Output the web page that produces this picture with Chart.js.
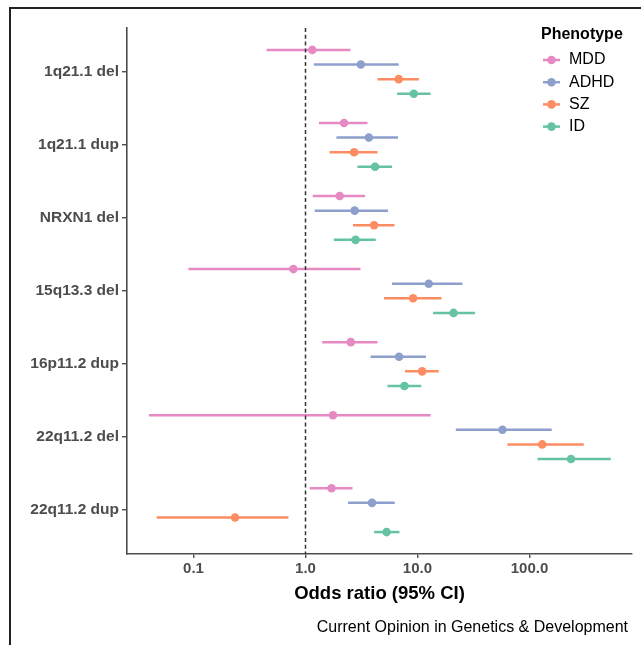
<!DOCTYPE html>
<html>
<head>
<meta charset="utf-8">
<script src="https://cdn.jsdelivr.net/npm/chart.js@4.4.0/dist/chart.umd.min.js"></script>
<style>
  html, body { margin: 0; padding: 0; background: #fff; overflow: hidden; }
  #wrap { position: relative; width: 641px; height: 645px; }
  #frame { position: absolute; left: 9px; top: 7px; width: 700px; height: 700px; border-left: 2px solid #222; border-top: 2px solid #222; pointer-events: none; }
  canvas { position: absolute; left: 0; top: 0; }
</style>
</head>
<body>
<div id="wrap">
  <div id="frame"></div>
  <canvas id="forest_chart" width="641" height="645"></canvas>
</div>
<script>
// CNVs, top to bottom
const cnvs = ["1q21.1 del", "1q21.1 dup", "NRXN1 del", "15q13.3 del", "16p11.2 dup", "22q11.2 del", "22q11.2 dup"];
const phenotypes = ["MDD", "ADHD", "SZ", "ID"];
const phenoColors = ["rgb(231, 138, 195)", "rgb(141, 160, 203)", "rgb(252, 141, 98)", "rgb(102, 194, 165)"];
const xTicks = [0.1, 1, 10, 100];

// odds ratios with 95% CI, one value per CNV
const mddOR = [1.15, 2.21, 2.02, 0.78, 2.54, 1.76, 1.71];
const mddLo = [0.45, 1.32, 1.16, 0.09, 1.41, 0.04, 1.09];
const mddHi = [2.52, 3.58, 3.41, 3.1, 4.4, 13.1, 2.63];

const adhdOR = [3.12, 3.68, 2.75, 12.6, 6.85, 57.4, 3.93];
const adhdLo = [1.19, 1.89, 1.21, 5.93, 3.81, 22, 2.4];
const adhdHi = [6.8, 6.71, 5.46, 25.2, 11.9, 158, 6.27];

const szOR = [6.8, 2.72, 4.1, 9.14, 11.0, 130, 0.235];
const szLo = [4.4, 1.64, 2.66, 5.03, 7.75, 63.6, 0.047];
const szHi = [10.3, 4.4, 6.23, 16.4, 15.5, 305, 0.705];

const idOR = [9.27, 4.18, 2.8, 21, 7.65, 235, 5.3];
const idLo = [6.58, 2.91, 1.79, 13.8, 5.4, 118, 4.1];
const idHi = [13.1, 5.93, 4.24, 32.7, 10.8, 532, 6.9];

const allOR = [mddOR, adhdOR, szOR, idOR];
const allLo = [mddLo, adhdLo, szLo, idLo];
const allHi = [mddHi, adhdHi, szHi, idHi];
const dodge = [-0.3, -0.1, 0.1, 0.3];

const FONT = "'Liberation Sans', Arial, sans-serif";

// horizontal CI lines
const errorBars = {
  id: "errorBars",
  beforeDatasetsDraw(chart) {
    const { ctx, scales: { x, y } } = chart;
    ctx.save();
    ctx.lineWidth = 2.5;
    chart.data.datasets.forEach((ds) => {
      ctx.strokeStyle = ds.borderColor;
      for (const d of ds.data) {
        const py = y.getPixelForValue(d.y);
        ctx.beginPath();
        ctx.moveTo(x.getPixelForValue(d.lo), py);
        ctx.lineTo(x.getPixelForValue(d.hi), py);
        ctx.stroke();
      }
    });
    ctx.restore();
  },
  // dashed reference line at OR = 1
  afterDatasetsDraw(chart) {
    const { ctx, chartArea, scales: { x } } = chart;
    const px = Math.round(x.getPixelForValue(1)) + 0.5;
    ctx.save();
    ctx.strokeStyle = "#333";
    ctx.lineWidth = 1.5;
    ctx.setLineDash([4, 2.8]);
    ctx.beginPath();
    ctx.moveTo(px, chartArea.top);
    ctx.lineTo(px, chartArea.bottom);
    ctx.stroke();
    ctx.restore();
  },
};

// ggplot style legend in the top right corner + caption
const phenoLegend = {
  id: "phenoLegend",
  afterDraw(chart) {
    const ctx = chart.ctx;
    ctx.save();
    ctx.textBaseline = "middle";
    ctx.fillStyle = "#000";
    ctx.font = "bold 16px " + FONT;
    ctx.fillText("Phenotype", 541, 35);
    phenotypes.forEach((name, i) => {
      const cy = 60 + i * 22.2;
      ctx.strokeStyle = phenoColors[i];
      ctx.lineWidth = 2.5;
      ctx.beginPath();
      ctx.moveTo(543, cy);
      ctx.lineTo(560, cy);
      ctx.stroke();
      ctx.fillStyle = phenoColors[i];
      ctx.beginPath();
      ctx.arc(551.5, cy, 4.3, 0, Math.PI * 2);
      ctx.fill();
      ctx.fillStyle = "#000";
      ctx.font = "16px " + FONT;
      ctx.fillText(name, 569, cy);
    });
    ctx.font = "16px " + FONT;
    ctx.textAlign = "right";
    ctx.fillText("Current Opinion in Genetics & Development", 628, 628);
    ctx.restore();
  },
};

const datasets = phenotypes.map((name, p) => ({
  label: name,
  data: cnvs.map((c, i) => ({
    x: allOR[p][i],
    y: i + 1 + dodge[p],
    lo: allLo[p][i],
    hi: allHi[p][i],
  })),
  backgroundColor: phenoColors[p],
  borderColor: phenoColors[p],
  pointRadius: 4.3,
  pointHoverRadius: 4.3,
  pointBorderWidth: 0,
}));

const forest_chart = document.getElementById("forest_chart");
new Chart(forest_chart, {
  type: "scatter",
  data: { datasets: datasets },
  options: {
    responsive: false,
    animation: false,
    layout: { padding: { top: 28, right: 9, left: 0, bottom: 0 } },
    plugins: {
      legend: { display: false },
      tooltip: { enabled: false },
    },
    scales: {
      x: {
        type: "logarithmic",
        min: 0.0255,
        max: 823,
        afterBuildTicks: (scale) => {
          scale.ticks = xTicks.map((v) => ({ value: v }));
        },
        afterFit: (scale) => {
          scale.height = 91;
        },
        ticks: {
          autoSkip: false,
          maxRotation: 0,
          padding: 1.5,
          color: "#4d4d4d",
          font: { family: FONT, size: 15, weight: "bold" },
          callback: (v) => Number(v).toFixed(1),
        },
        grid: { drawOnChartArea: false, drawTicks: true, tickLength: 4, color: "#4d4d4d", lineWidth: 1.4 },
        border: { display: true, color: "#4d4d4d", width: 1.6 },
        title: {
          display: true,
          text: "Odds ratio (95% CI)",
          color: "#000",
          font: { family: FONT, size: 18.5, weight: "bold" },
          padding: { top: 0, bottom: 39.9 },
        },
      },
      y: {
        type: "linear",
        min: 0.4,
        max: 7.6,
        reverse: true,
        afterBuildTicks: (scale) => {
          scale.ticks = cnvs.map((c, i) => ({ value: i + 1 }));
        },
        afterFit: (scale) => {
          scale.width = 127;
        },
        ticks: {
          autoSkip: false,
          padding: 3,
          color: "#4d4d4d",
          font: { family: FONT, size: 15.5, weight: "bold" },
          callback: (v) => cnvs[Math.round(v) - 1],
        },
        grid: { drawOnChartArea: false, drawTicks: true, tickLength: 5, color: "#4d4d4d", lineWidth: 1.4 },
        border: { display: true, color: "#4d4d4d", width: 1.6 },
      },
    },
  },
  plugins: [errorBars, phenoLegend],
});
</script>
</body>
</html>
